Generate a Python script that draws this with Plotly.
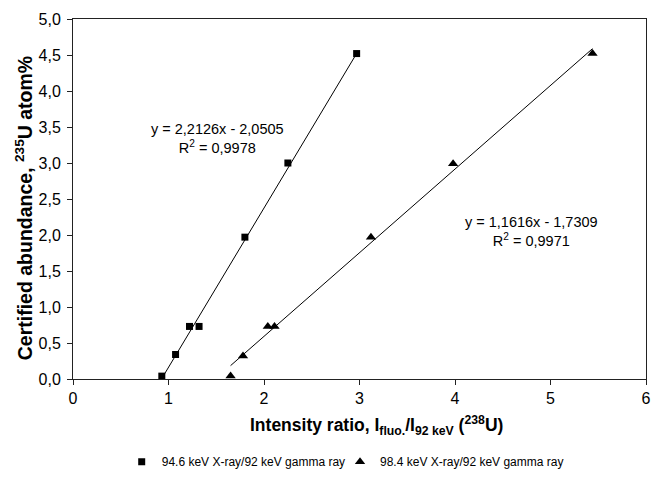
import plotly.graph_objects as go

# Data
sq_x = [0.93, 1.074, 1.22, 1.32, 1.80, 2.25, 2.97]
sq_y = [0.04, 0.34, 0.73, 0.73, 1.97, 3.00, 4.52]
tri_x = [1.65, 1.78, 2.04, 2.11, 3.12, 3.98, 5.44]
tri_y = [0.04, 0.32, 0.73, 0.73, 1.97, 2.99, 4.52]

# Trendline coefficients printed on the chart
sq_slope, sq_icpt = 2.2126, -2.0505
tri_slope, tri_icpt = 1.1616, -1.7309

name_sq = "94.6 keV X-ray/92 keV gamma ray"
name_tri = "98.4 keV X-ray/92 keV gamma ray"
eq_sq = "y = 2,2126x - 2,0505<br>R<sup>2</sup> = 0,9978"
eq_tri = "y = 1,1616x - 1,7309<br>R<sup>2</sup> = 0,9971"

FONT = "Liberation Sans, Arial, sans-serif"

fig = go.Figure()

def trend(xs, m, b):
    x0, x1 = min(xs), max(xs)
    return [x0, x1], [m * x0 + b, m * x1 + b]

lx, ly = trend(sq_x, sq_slope, sq_icpt)
fig.add_trace(go.Scatter(x=lx, y=ly, mode="lines", line=dict(color="black", width=1),
                         showlegend=False, hoverinfo="skip"))
lx, ly = trend(tri_x, tri_slope, tri_icpt)
fig.add_trace(go.Scatter(x=lx, y=ly, mode="lines", line=dict(color="black", width=1),
                         showlegend=False, hoverinfo="skip"))

fig.add_trace(go.Scatter(x=sq_x, y=sq_y, mode="markers", name=name_sq,
                         marker=dict(symbol="square", size=7, color="black"),
                         cliponaxis=False, legend="legend"))
fig.add_trace(go.Scatter(x=tri_x, y=tri_y, mode="markers", name=name_tri,
                         marker=dict(symbol="triangle-up", size=9, color="black"),
                         cliponaxis=False, legend="legend2"))

leg_common = dict(orientation="h", y=-0.23, yanchor="middle", xanchor="left",
                  font=dict(size=12, family=FONT), itemwidth=30,
                  bgcolor="rgba(0,0,0,0)")

fig.update_layout(
    width=655, height=489,
    margin=dict(l=73, r=4, t=19, b=110),
    paper_bgcolor="white", plot_bgcolor="white",
    separators=",.",
    font=dict(family=FONT, size=12, color="black"),
    showlegend=True,
    legend=dict(x=0.085, **leg_common),
    legend2=dict(x=0.466, **leg_common),
    xaxis=dict(range=[0, 6], dtick=1, showgrid=False, zeroline=False,
               showline=True, linecolor="#222", linewidth=1, mirror=True,
               ticks="outside", ticklen=5, tickcolor="#222",
               ticklabeloverflow="allow",
               tickfont=dict(size=16, family=FONT)),
    yaxis=dict(range=[0, 5], dtick=0.5, tickformat=".1f", showgrid=False, zeroline=False,
               showline=True, linecolor="#222", linewidth=1, mirror=True,
               ticks="outside", ticklen=5, tickcolor="#222", ticklabelstandoff=3,
               tickfont=dict(size=16, family=FONT)),
)

fig.add_annotation(text=eq_sq, x=1.51, y=3.34, xref="x", yref="y", showarrow=False,
                   font=dict(size=14.5, family=FONT), align="center")
fig.add_annotation(text=eq_tri, x=4.80, y=2.05, xref="x", yref="y", showarrow=False,
                   font=dict(size=14.5, family=FONT), align="center")

fig.add_annotation(text="<b>Intensity ratio, I<sub>fluo.</sub>/I<sub>92 keV</sub> (<sup>238</sup>U)</b>",
                   x=0.53, y=-0.128, xref="paper", yref="paper", showarrow=False,
                   yanchor="middle", font=dict(size=17.5, family=FONT))
fig.add_annotation(text="<b>Certified abundance, <sup>235</sup>U atom%</b>",
                   x=-0.085, y=0.475, xref="paper", yref="paper", showarrow=False,
                   textangle=-90, xanchor="center", yanchor="middle",
                   font=dict(size=19.5, family=FONT))

fig.write_html("out.html")
